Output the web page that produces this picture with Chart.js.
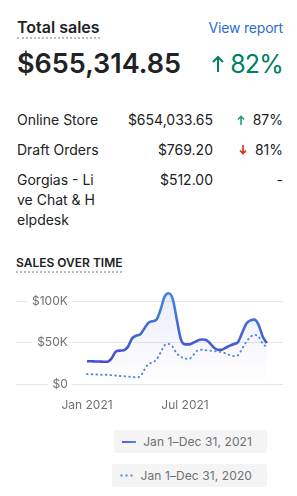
<!DOCTYPE html>
<html>
<head>
<meta charset="utf-8">
<script src="https://cdn.jsdelivr.net/npm/chart.js@4.4.0/dist/chart.umd.min.js"></script>
<style>
  body { margin: 0; width: 297px; height: 496px; background: #fff; position: relative; overflow: hidden;
    font-family: Inter, "Noto Sans", sans-serif; color: #202223; }
  .abs { position: absolute; white-space: nowrap; }
  .title { left: 17px; top: 17px; font-size: 16px; line-height: 20px; font-weight: 600;
    border-bottom: 2px dotted #b4bcc4; }
  .link { right: 14px; top: 18px; font-size: 14px; line-height: 20px; color: #2c6ecb; letter-spacing: -0.2px; }
  .big { left: 17px; top: 48px; font-size: 27px; line-height: 32px; font-weight: 600; }
  .big-change { right: 14px; top: 48px; font-size: 25px; line-height: 32px; color: #008060; letter-spacing: -0.8px; }
  .row { font-size: 14px; line-height: 20px; }
  .name { left: 17px; width: 82px; white-space: normal; word-break: break-all; }
  .value { right: 84px; }
  .change { right: 14px; }
  .section { left: 16px; top: 255px; font-size: 12px; line-height: 16px; font-weight: 600;
    border-bottom: 2px dotted #b4bcc4; }
  .legend { right: 30px; height: 23px; background: #f4f4f4; border-radius: 2px; display: flex;
    align-items: center; padding: 0 15px 0 8px; font-size: 12px; letter-spacing: 0.1px; color: #6d7175; }
  .legend .icon { margin-right: 7px; }
</style>
</head>
<body>
  <div class="abs title">Total sales</div>
  <div class="abs link">View report</div>
  <div class="abs big">$655,314.85</div>
  <div class="abs big-change"><svg width="12" height="18" viewBox="0 0 12 18" style="margin-right:6px"><path d="M6 17V2M1 7l5-5 5 5" fill="none" stroke="#008060" stroke-width="2"/></svg>82%</div>

  <div class="abs row name" style="top:110px">Online Store</div>
  <div class="abs row value" style="top:110px">$654,033.65</div>
  <div class="abs row change" style="top:110px"><svg width="8" height="10" viewBox="0 0 8 10" style="margin-right:8px"><path d="M4 10V1.5M1 4.5l3-3 3 3" fill="none" stroke="#2e9c76" stroke-width="1.6"/></svg>87%</div>

  <div class="abs row name" style="top:140px">Draft Orders</div>
  <div class="abs row value" style="top:140px">$769.20</div>
  <div class="abs row change" style="top:140px"><svg width="8" height="10" viewBox="0 0 8 10" style="margin-right:8px"><path d="M4 0V8.5M1 5.5l3 3 3-3" fill="none" stroke="#d72c0d" stroke-width="1.6"/></svg>81%</div>

  <div class="abs row name" style="top:170px">Gorgias - Live Chat &amp; Helpdesk</div>
  <div class="abs row value" style="top:170px">$512.00</div>
  <div class="abs row change" style="top:170px">-</div>

  <div class="abs section">SALES OVER TIME</div>

  <div class="abs" style="left:0;top:280px;width:297px;height:140px">
    <canvas id="sales-over-time" width="297" height="140" style="display:block"></canvas>
  </div>

  <div class="abs legend" style="top:430px">
    <svg class="icon" width="14" height="2"><defs><linearGradient id="lg" x1="0" x2="1"><stop offset="0" stop-color="#6a4be6"/><stop offset="1" stop-color="#4b8fe0"/></linearGradient></defs><rect width="14" height="2" fill="url(#lg)"/></svg>
    Jan 1–Dec 31, 2021
  </div>
  <div class="abs legend" style="top:464px">
    <svg class="icon" width="13" height="3"><circle cx="1.5" cy="1.5" r="1.2" fill="#6f9cd8"/><circle cx="6.5" cy="1.5" r="1.2" fill="#6f9cd8"/><circle cx="11.5" cy="1.5" r="1.2" fill="#6f9cd8"/></svg>
    Jan 1–Dec 31, 2020
  </div>

<script>
// months since Jan 2021, roughly weekly steps
const months = [0, 0.25, 0.5, 0.75, 1, 1.25, 1.5, 1.75, 2, 2.25, 2.5, 2.75, 3, 3.25, 3.5, 3.75,
  4, 4.25, 4.5, 4.75, 5, 5.25, 5.5, 5.75, 6, 6.25, 6.5, 6.75, 7, 7.25, 7.5, 7.75,
  8, 8.25, 8.5, 8.75, 9, 9.25, 9.5, 9.75, 10, 10.25, 10.5, 10.75, 11];
// values in $K
const sales2021 = [27.5, 27.5, 27.3, 27.2, 27, 27, 31, 39, 40.5, 41, 45, 55, 58.5, 60, 67, 74,
  76, 78, 90, 106, 110, 103, 78, 54, 48, 48, 50, 52.5, 54, 53.5, 50, 44.5,
  41.5, 41.5, 44, 46.5, 48.5, 51, 62, 73, 77, 78, 72, 58, 49.5];
const sales2020 = [12, 11.8, 11.5, 11.3, 11.2, 11, 10.7, 10.2, 9.7, 9.4, 9, 8.6, 8.2, 9, 17, 24,
  26, 29.5, 38, 47, 48.5, 45, 37, 33, 30.5, 30.5, 35, 40.5, 41.5, 41, 40.5, 40,
  39.5, 38.5, 37, 35, 34, 35, 43, 51, 57, 59.5, 57.5, 49, 45];
const xTickValues = [0, 6];
const xTickLabels = ["Jan 2021", "Jul 2021"];
const yTickValues = [0, 50, 100];

const salesCanvas = document.getElementById("sales-over-time").getContext("2d");

function lineGradient(context) {
  const area = context.chart.chartArea;
  if (!area) return "#4358cc";
  const g = context.chart.ctx.createLinearGradient(0, area.bottom, 0, area.top);
  g.addColorStop(0, "#4a3acb");
  g.addColorStop(1, "#3d90dc");
  return g;
}

function fillGradient(context) {
  const area = context.chart.chartArea;
  if (!area) return "rgba(100, 100, 215, 0.08)";
  const g = context.chart.ctx.createLinearGradient(0, area.top, 0, area.bottom);
  g.addColorStop(0, "rgba(95, 95, 215, 0.13)");
  g.addColorStop(1, "rgba(95, 95, 215, 0)");
  return g;
}

// y labels sit inside the plot (mirror), x labels get a fixed band
function fitY(scale) {
  scale.width = 0;
  scale.paddingTop = 0;
  scale.paddingBottom = 0;
}
function fitX(scale) {
  scale.height = 29;
  scale.paddingLeft = 0;
  scale.paddingRight = 0;
}

const salesConfig = {
  type: "line",
  data: {
    datasets: [
      {
        label: "Jan 1–Dec 31, 2021",
        data: months.map((m, i) => ({ x: m, y: sales2021[i] })),
        borderColor: lineGradient,
        backgroundColor: fillGradient,
        borderWidth: 2.6,
        fill: "origin",
        cubicInterpolationMode: "monotone",
        pointRadius: 0,
      },
      {
        label: "Jan 1–Dec 31, 2020",
        data: months.map((m, i) => ({ x: m, y: sales2020[i] })),
        borderColor: "#4f8ad6",
        borderWidth: 2,
        borderDash: [0.5, 4.2],
        borderCapStyle: "round",
        fill: false,
        cubicInterpolationMode: "monotone",
        pointRadius: 0,
      },
    ],
  },
  options: {
    responsive: false,
    animation: false,
    layout: { padding: { left: 16, right: 14, top: 5, bottom: 7 } },
    plugins: {
      legend: { display: false },
      tooltip: { enabled: false },
    },
    scales: {
      x: {
        type: "linear",
        min: -4.35,
        max: 12,
        grid: { display: false, drawTicks: false },
        border: { display: false },
        afterBuildTicks: (scale) => {
          scale.ticks = xTickValues.map((v) => ({ value: v }));
        },
        afterFit: fitX,
        ticks: {
          padding: 14,
          color: "#6d7175",
          font: { family: "Inter", size: 12 },
          maxRotation: 0,
          autoSkip: false,
          callback: (value) => xTickLabels[xTickValues.indexOf(value)],
        },
      },
      y: {
        min: 0,
        max: 120,
        grid: { color: "#e4e5e7", drawTicks: false },
        border: { display: false },
        afterBuildTicks: (scale) => {
          scale.ticks = yTickValues.map((v) => ({ value: v }));
        },
        afterFit: fitY,
        ticks: {
          mirror: true,
          crossAlign: "far",
          padding: 16,
          color: "#6d7175",
          font: { family: "Inter", size: 12 },
          showLabelBackdrop: true,
          backdropColor: "#fff",
          backdropPadding: { left: 5, right: 4, top: 1, bottom: 1 },
          callback: (value) => (value === 0 ? "$0" : "$" + value + "K"),
        },
      },
    },
  },
};

new Chart(salesCanvas, salesConfig);
</script>
</body>
</html>
